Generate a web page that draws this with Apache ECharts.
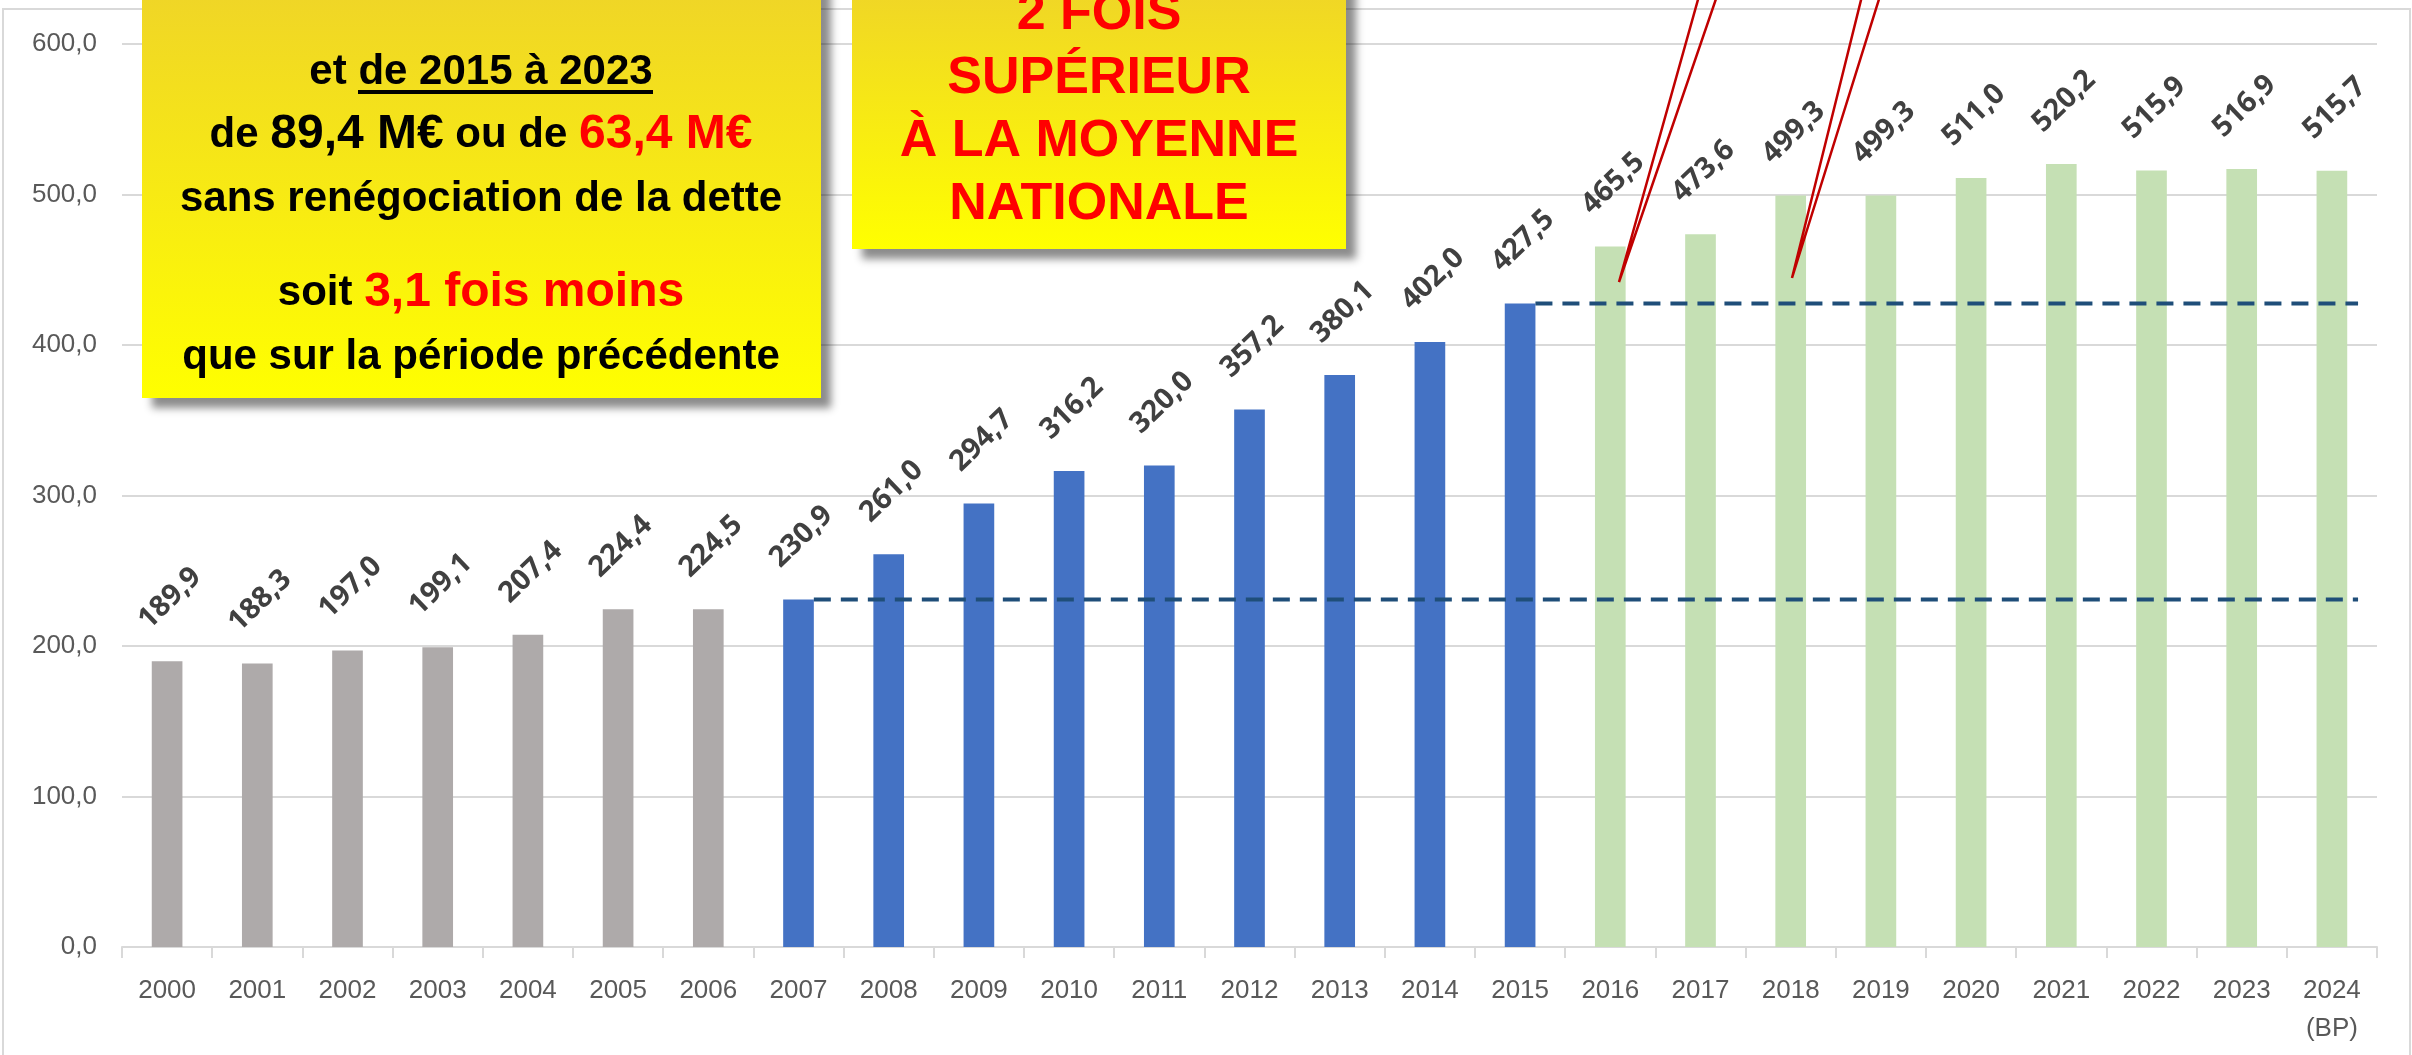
<!DOCTYPE html>
<html>
<head>
<meta charset="utf-8">
<script src="https://cdn.jsdelivr.net/npm/echarts@6/dist/echarts.min.js"></script>
<style>
  html, body { margin: 0; padding: 0; background: #fff; }
  #chart { width: 2412px; height: 1055px; }
</style>
</head>
<body>
<div id="chart"></div>
<script>
// annual values (M€), 2000 -> 2024 (BP)
const years = ['2000', '2001', '2002', '2003', '2004', '2005', '2006', '2007', '2008', '2009', '2010', '2011', '2012',
  '2013', '2014', '2015', '2016', '2017', '2018', '2019', '2020', '2021', '2022', '2023', '2024\n(BP)'];
const values = [189.9, 188.3, 197.0, 199.1, 207.4, 224.4, 224.5, 230.9, 261.0, 294.7, 316.2, 320.0, 357.2,
  380.1, 402.0, 427.5, 465.5, 473.6, 499.3, 499.3, 511.0, 520.2, 515.9, 516.9, 515.7];
const yTicks = [0, 100, 200, 300, 400, 500, 600];

// periods : gray until 2006, blue until 2015, green after
const grayLast = '2006';
const blueLast = '2015';

// dashed reference levels (start year, level)
const refFrom = ['2007', '2015'];
const refLevel = [230.9, 427.5];

const fmt = v => Number(v).toFixed(1).replace('.', ',');

var chart = echarts.init(document.getElementById('chart'));

const grayIdx = years.indexOf(grayLast);
const blueIdx = years.indexOf(blueLast);
const barColor = i => i <= grayIdx ? '#AEAAAA' : (i <= blueIdx ? '#4472C4' : '#C5E0B4');

const boxFont = 'Liberation Sans, Arial, sans-serif';
const shadow = { shadowBlur: 8, shadowOffsetX: 10, shadowOffsetY: 10, shadowColor: 'rgba(0,0,0,0.45)' };
const yellow = () => new echarts.graphic.LinearGradient(0, 0, 0, 1, [
  { offset: 0, color: '#EFD428' }, { offset: 1, color: '#FFFF00' }]);

chart.setOption({
  backgroundColor: '#fff',
  animation: false,
  grid: { left: 122, right: 35, top: 44, bottom: 108 },
  xAxis: {
    type: 'category',
    data: years,
    axisLine: { lineStyle: { color: '#D9D9D9', width: 2 } },
    axisTick: { show: true, length: 11, lineStyle: { color: '#D9D9D9', width: 2 } },
    axisLabel: {
      color: '#595959', fontSize: 26, fontFamily: 'Liberation Sans, Arial', margin: 25, lineHeight: 38,
      interval: 0
    }
  },
  yAxis: {
    type: 'value',
    min: yTicks[0],
    max: yTicks[yTicks.length - 1],
    interval: yTicks[1] - yTicks[0],
    axisLine: { show: false },
    axisTick: { show: false },
    axisLabel: { color: '#595959', fontSize: 26, fontFamily: 'Liberation Sans, Arial', margin: 25, formatter: fmt },
    splitLine: { lineStyle: { color: '#D9D9D9', width: 2 } }
  },
  series: [{
    type: 'bar',
    barWidth: '34%',
    data: values.map((v, i) => ({ value: v, itemStyle: { color: barColor(i) } })),
    label: {
      show: true,
      position: 'top',
      distance: 60,
      rotate: 44,
      align: 'center',
      verticalAlign: 'middle',
      offset: [4, 0],
      color: '#404040',
      fontSize: 29,
      fontWeight: 'bold',
      fontFamily: 'Open Sans, sans-serif',
      formatter: p => fmt(p.value)
    }
  }, {
    type: 'custom',
    z: 5,
    data: refFrom.map((y, i) => [years.indexOf(y), refLevel[i]]),
    renderItem: function (params, api) {
      const p0 = api.coord([api.value(0), api.value(1)]);
      const p1 = api.coord([years.length - 1, api.value(1)]);
      const band = api.size([1, 0])[0];
      return {
        type: 'line',
        shape: { x1: p0[0] + band * 0.17, y1: p0[1], x2: p1[0] + band * 0.29, y2: p0[1] },
        style: { stroke: '#1F4E79', lineWidth: 4, lineDash: [17, 10] }
      };
    }
  }],
  graphic: [
    // outer frame
    { type: 'rect', z: 0, shape: { x: 3, y: 9, width: 2407, height: 1070 },
      style: { fill: 'none', stroke: '#D9D9D9', lineWidth: 2 } },
    // left box
    { type: 'rect', z: 50, shape: { x: 142, y: -20, width: 679, height: 418 },
      style: Object.assign({ fill: yellow() }, shadow) },
    { type: 'text', z: 51, x: 481, y: 72, style: {
      text: 'et de 2015 à 2023', font: 'bold 42px ' + boxFont, fill: '#000', align: 'center', verticalAlign: 'middle' } },
    { type: 'line', z: 51, shape: { x1: 358, y1: 92, x2: 653, y2: 92 }, style: { stroke: '#000', lineWidth: 4 } },
    { type: 'text', z: 51, x: 481, y: 135, style: {
      text: '{a|de }{b|89,4 M€}{a| ou de }{r|63,4 M€}', align: 'center', verticalAlign: 'middle',
      rich: {
        a: { font: 'bold 42px ' + boxFont, fill: '#000' },
        b: { font: 'bold 48px ' + boxFont, fill: '#000' },
        r: { font: 'bold 48px ' + boxFont, fill: '#FF0000' }
      } } },
    { type: 'text', z: 51, x: 481, y: 199, style: {
      text: 'sans renégociation de la dette', font: 'bold 42px ' + boxFont, fill: '#000', align: 'center', verticalAlign: 'middle' } },
    { type: 'text', z: 51, x: 481, y: 293, style: {
      text: '{a|soit }{r|3,1 fois moins}', align: 'center', verticalAlign: 'middle',
      rich: {
        a: { font: 'bold 42px ' + boxFont, fill: '#000' },
        r: { font: 'bold 48px ' + boxFont, fill: '#FF0000' }
      } } },
    { type: 'text', z: 51, x: 481, y: 357, style: {
      text: 'que sur la période précédente', font: 'bold 42px ' + boxFont, fill: '#000', align: 'center', verticalAlign: 'middle' } },
    // right box
    { type: 'rect', z: 50, shape: { x: 852, y: -20, width: 494, height: 269 },
      style: Object.assign({ fill: yellow() }, shadow) },
    { type: 'text', z: 51, x: 1099, y: 15, style: {
      text: '2 FOIS', font: 'bold 52px ' + boxFont, fill: '#FF0000', align: 'center', verticalAlign: 'middle' } },
    { type: 'text', z: 51, x: 1099, y: 79, style: {
      text: 'SUPÉRIEUR', font: 'bold 52px ' + boxFont, fill: '#FF0000', align: 'center', verticalAlign: 'middle' } },
    { type: 'text', z: 51, x: 1099, y: 142, style: {
      text: 'À LA MOYENNE', font: 'bold 52px ' + boxFont, fill: '#FF0000', align: 'center', verticalAlign: 'middle' } },
    { type: 'text', z: 51, x: 1099, y: 205, style: {
      text: 'NATIONALE', font: 'bold 52px ' + boxFont, fill: '#FF0000', align: 'center', verticalAlign: 'middle' } },
    // red pointers
    { type: 'polyline', z: 60, shape: { points: [[1699, -4], [1619, 282], [1717, -4]] },
      style: { stroke: '#C00000', lineWidth: 2.5, fill: 'none' } },
    { type: 'polyline', z: 60, shape: { points: [[1862, -4], [1792, 278], [1880, -4]] },
      style: { stroke: '#C00000', lineWidth: 2.5, fill: 'none' } }
  ]
});
</script>
</body>
</html>
